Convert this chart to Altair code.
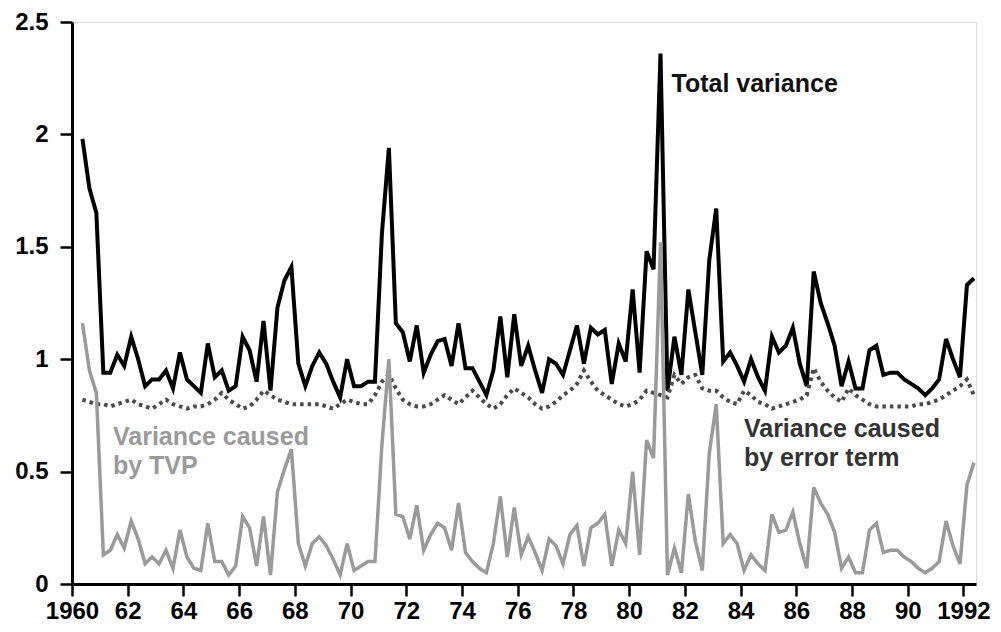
import altair as alt
import pandas as pd

# Quarterly observations, first = 1960 Q2
start_year = 1960
start_quarter = 2

total_variance = [
    1.98, 1.76, 1.65, 0.94, 0.94, 1.02, 0.97, 1.10, 1.00, 0.88,
    0.91, 0.91, 0.95, 0.87, 1.03, 0.91, 0.88, 0.85, 1.07, 0.92,
    0.95, 0.86, 0.88, 1.10, 1.04, 0.90, 1.17, 0.86, 1.23, 1.35,
    1.41, 0.98, 0.88, 0.97, 1.03, 0.98, 0.90, 0.83, 1.00, 0.88,
    0.88, 0.90, 0.90, 1.56, 1.94, 1.16, 1.12, 0.99, 1.15, 0.94,
    1.02, 1.08, 1.09, 0.97, 1.16, 0.96, 0.96, 0.90, 0.84, 0.95,
    1.19, 0.92, 1.20, 0.97, 1.06, 0.95, 0.85, 1.00, 0.98, 0.93,
    1.04, 1.15, 0.98, 1.14, 1.11, 1.13, 0.89, 1.07, 0.99, 1.31,
    0.94, 1.48, 1.40, 2.36, 0.86, 1.10, 0.93, 1.31, 1.12, 0.93,
    1.44, 1.67, 0.99, 1.03, 0.97, 0.90, 1.00, 0.92, 0.86, 1.10,
    1.03, 1.06, 1.14, 0.98, 0.88, 1.39, 1.25, 1.16, 1.06, 0.88,
    0.99, 0.87, 0.87, 1.04, 1.06, 0.93, 0.94, 0.94, 0.91, 0.89,
    0.87, 0.84, 0.87, 0.91, 1.09, 1.00, 0.92, 1.33, 1.36,
]

error_term = [
    0.82, 0.81, 0.80, 0.80, 0.79, 0.80, 0.81, 0.82, 0.80, 0.79,
    0.78, 0.80, 0.82, 0.80, 0.79, 0.78, 0.79, 0.79, 0.80, 0.82,
    0.85, 0.82, 0.80, 0.78, 0.79, 0.82, 0.86, 0.84, 0.82, 0.81,
    0.80, 0.80, 0.80, 0.80, 0.80, 0.79, 0.78, 0.80, 0.82, 0.81,
    0.80, 0.80, 0.84, 0.90, 0.93, 0.87, 0.82, 0.80, 0.79, 0.79,
    0.80, 0.82, 0.84, 0.82, 0.80, 0.83, 0.86, 0.83, 0.80, 0.78,
    0.80, 0.84, 0.87, 0.85, 0.83, 0.80, 0.78, 0.79, 0.81, 0.84,
    0.86, 0.89, 0.95, 0.90, 0.86, 0.84, 0.82, 0.80, 0.79, 0.80,
    0.82, 0.86, 0.85, 0.84, 0.83, 0.93, 0.89, 0.92, 0.93, 0.87,
    0.86, 0.86, 0.83, 0.81, 0.80, 0.86, 0.84, 0.81, 0.80, 0.78,
    0.79, 0.80, 0.81, 0.82, 0.84, 0.96, 0.90, 0.86, 0.83, 0.81,
    0.87, 0.84, 0.82, 0.80, 0.79, 0.79, 0.79, 0.79, 0.79, 0.79,
    0.80, 0.80, 0.81, 0.82, 0.84, 0.86, 0.88, 0.91, 0.84,
]

tvp_variance = [
    1.16, 0.95, 0.85, 0.13, 0.15, 0.22, 0.16, 0.28, 0.20, 0.09,
    0.12, 0.09, 0.15, 0.07, 0.24, 0.12, 0.07, 0.06, 0.27, 0.10,
    0.10, 0.04, 0.08, 0.30, 0.25, 0.08, 0.30, 0.04, 0.41, 0.51,
    0.60, 0.18, 0.08, 0.18, 0.21, 0.17, 0.11, 0.04, 0.18, 0.06,
    0.08, 0.10, 0.10, 0.62, 1.00, 0.31, 0.30, 0.20, 0.35, 0.15,
    0.22, 0.27, 0.25, 0.15, 0.36, 0.14, 0.10, 0.07, 0.05, 0.18,
    0.39, 0.12, 0.34, 0.13, 0.21, 0.14, 0.06, 0.20, 0.17, 0.09,
    0.22, 0.26, 0.08, 0.25, 0.27, 0.31, 0.08, 0.24, 0.18, 0.50,
    0.13, 0.64, 0.56, 1.52, 0.04, 0.16, 0.05, 0.40, 0.19, 0.06,
    0.58, 0.80, 0.18, 0.22, 0.18, 0.06, 0.13, 0.09, 0.06, 0.31,
    0.23, 0.24, 0.32, 0.18, 0.07, 0.43, 0.36, 0.31, 0.23, 0.07,
    0.12, 0.05, 0.05, 0.24, 0.27, 0.14, 0.15, 0.15, 0.12, 0.10,
    0.07, 0.05, 0.07, 0.10, 0.28, 0.17, 0.09, 0.44, 0.54,
]

year_ticks = list(range(1960, 1993))
y_ticks = [0, 0.5, 1, 1.5, 2, 2.5]

labels = [
    {"text": "Total variance", "x": 1981.52, "y": 2.19, "group": "total"},
    {"text": "Variance caused", "x": 1961.47, "y": 0.62, "group": "tvp"},
    {"text": "by TVP", "x": 1961.47, "y": 0.49, "group": "tvp"},
    {"text": "Variance caused", "x": 1984.12, "y": 0.655, "group": "err"},
    {"text": "by error term", "x": 1984.12, "y": 0.525, "group": "err"},
]

n = len(total_variance)
t = [start_year + (start_quarter - 1 + i) / 4 + 0.125 for i in range(n)]
df = pd.DataFrame({"t": t, "total": total_variance, "err": error_term, "tvp": tvp_variance})
lab = pd.DataFrame(labels)

FONT = "Liberation Sans"

x_enc = alt.X(
    "t:Q",
    scale=alt.Scale(domain=[1960, 1992.45], nice=False, zero=False),
    axis=alt.Axis(
        values=year_ticks,
        labelExpr="datum.value % 2 == 0 ? ((datum.value == 1960 || datum.value == 1992) ? '' + datum.value : substring('' + datum.value, 2)) : ''",
        title=None,
        grid=False,
        tickSize=12,
        tickWidth=2.5,
        tickColor="black",
        domainColor="black",
        domainWidth=3,
        labelFont=FONT,
        labelFontSize=24,
        labelFontWeight="bold",
        labelColor="black",
        labelPadding=3,
        labelFlush=False,
        labelOverlap=False,
    ),
)
y_scale = alt.Scale(domain=[0, 2.5], nice=False)
y_axis = alt.Axis(
    values=y_ticks,
    format="~g",
    title=None,
    grid=False,
    tickSize=12,
    tickWidth=2.5,
    tickColor="black",
    domainColor="black",
    domainWidth=3,
    labelFont=FONT,
    labelFontSize=24,
    labelFontWeight="bold",
    labelColor="black",
    labelPadding=12,
    labelFlush=False,
    labelOverlap=False,
)

base = alt.Chart(df)

total_line = base.mark_line(color="black", strokeWidth=4, strokeJoin="miter").encode(
    x=x_enc, y=alt.Y("total:Q", scale=y_scale, axis=y_axis)
)
err_line = base.mark_line(color="#4a4a4a", strokeWidth=4, strokeDash=[3.5, 4], strokeCap="butt").encode(
    x="t:Q", y="err:Q"
)
tvp_line = base.mark_line(color="#9a9a9a", strokeWidth=3.5).encode(x="t:Q", y="tvp:Q")

text = alt.Chart(lab).mark_text(
    align="left", baseline="alphabetic", font=FONT, fontSize=25, fontWeight="bold"
).encode(
    x="x:Q",
    y="y:Q",
    text="text:N",
    color=alt.Color(
        "group:N",
        scale=alt.Scale(domain=["total", "tvp", "err"], range=["#111111", "#9a9a9a", "#333333"]),
        legend=None,
    ),
)

chart = (
    alt.layer(total_line, err_line, tvp_line, text)
    .properties(
        width=904,
        height=562,
        autosize=alt.AutoSizeParams(type="none"),
        padding={"left": 64, "top": 14, "right": 17, "bottom": 40},
    )
    .configure_view(stroke="black", strokeWidth=3)
    .configure(background="white")
)

chart.save("out.html", embed_options={"renderer": "svg", "actions": False})
